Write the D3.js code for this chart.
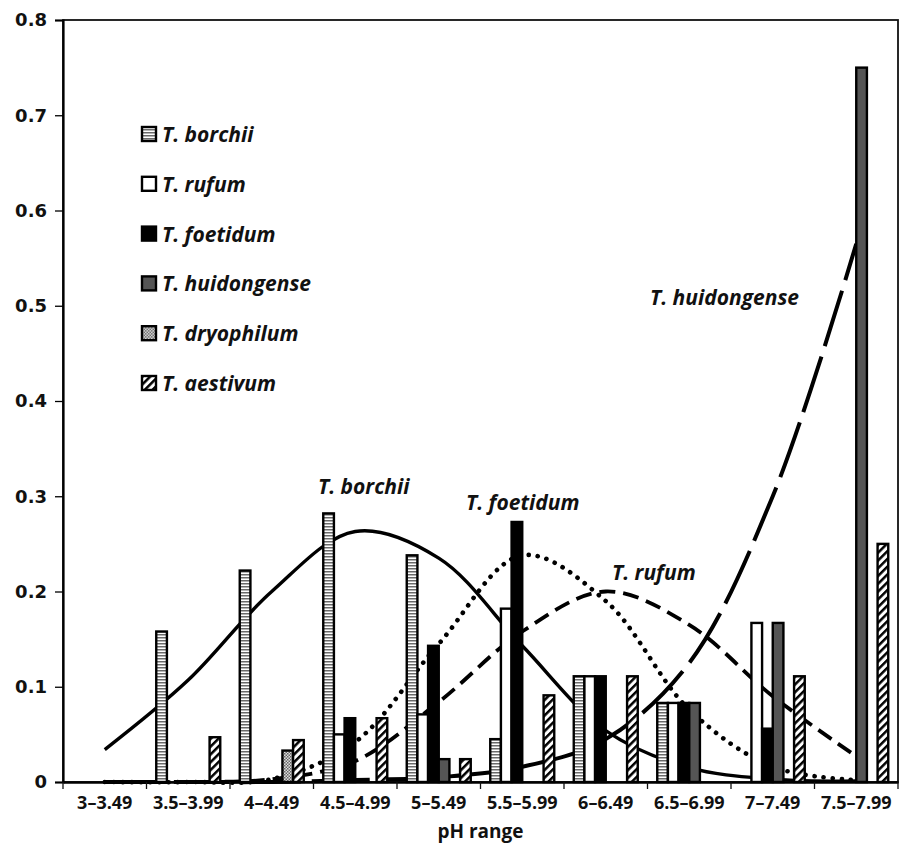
<!DOCTYPE html>
<html>
<head>
<meta charset="utf-8">
<script src="https://cdn.jsdelivr.net/npm/d3@7"></script>
<style>
  body { margin: 0; background: #fff; }
  text { fill: #111; }
</style>
</head>
<body>
<svg id="chart" width="901" height="846"></svg>
<script>
// pH classes on the x axis
const categories = ["3–3.49", "3.5–3.99", "4–4.49", "4.5–4.99", "5–5.49",
                    "5.5–5.99", "6–6.49", "6.5–6.99", "7–7.49", "7.5–7.99"];
const species = ["T. borchii", "T. rufum", "T. foetidum", "T. huidongense", "T. dryophilum", "T. aestivum"];

// bar values (relative frequency per pH class)
const borchii     = [0, 0.158, 0.222, 0.282, 0.238, 0.045, 0.111, 0.083, 0, 0];
const rufum       = [0, 0, 0, 0.050, 0.071, 0.182, 0.111, 0.083, 0.167, 0];
const foetidum    = [0, 0, 0, 0.067, 0.143, 0.273, 0.111, 0.083, 0.056, 0];
const huidongense = [0, 0, 0, 0, 0.024, 0, 0, 0.083, 0.167, 0.750];
const dryophilum  = [0, 0, 0.033, 0, 0, 0, 0, 0, 0, 0];
const aestivum    = [0, 0.047, 0.044, 0.067, 0.024, 0.091, 0.111, 0, 0.111, 0.250];

// fitted curves, read at the centre of each class
const fitBorchii     = [0.034, 0.107, 0.200, 0.263, 0.235, 0.143, 0.054, 0.015, 0.003, 0.001];
const fitRufum       = [0, 0, 0.003, 0.022, 0.084, 0.158, 0.200, 0.165, 0.090, 0.027];
const fitFoetidum    = [0, 0, 0.003, 0.042, 0.145, 0.238, 0.190, 0.076, 0.016, 0.002];
const fitHuidongense = [0, 0, 0, 0.002, 0.005, 0.016, 0.045, 0.125, 0.300, 0.565];

const yTicks = [0, 0.1, 0.2, 0.3, 0.4, 0.5, 0.6, 0.7, 0.8];

const barSeries = [borchii, rufum, foetidum, huidongense, dryophilum, aestivum];
const fills = ["url(#hstripe)", "#fff", "#000", "#555", "url(#checker)", "url(#diag)"];

const svg = d3.select("#chart");
const plotLeft = 63, plotRight = 898, plotTop = 20, plotBottom = 782;

const x0 = d3.scaleBand().domain(categories).range([plotLeft, plotRight]).padding(0);
const pad = 9.75;
const x1 = d3.scaleBand().domain(species).range([pad, x0.bandwidth() - pad]).padding(0);
const y = d3.scaleLinear().domain([0, 0.8]).range([plotBottom, plotTop]);

// patterns
const defs = svg.append("defs");
let p = defs.append("pattern").attr("id", "hstripe").attr("patternUnits", "userSpaceOnUse")
  .attr("width", 4).attr("height", 3);
p.append("rect").attr("width", 4).attr("height", 3).attr("fill", "#fff");
p.append("rect").attr("y", 1).attr("width", 4).attr("height", 1.5).attr("fill", "#6a6a6a");

p = defs.append("pattern").attr("id", "checker").attr("patternUnits", "userSpaceOnUse")
  .attr("width", 3).attr("height", 3);
p.append("rect").attr("width", 3).attr("height", 3).attr("fill", "#ddd");
p.append("rect").attr("width", 1.5).attr("height", 1.5).attr("fill", "#666");
p.append("rect").attr("x", 1.5).attr("y", 1.5).attr("width", 1.5).attr("height", 1.5).attr("fill", "#666");

p = defs.append("pattern").attr("id", "diag").attr("patternUnits", "userSpaceOnUse")
  .attr("width", 5.5).attr("height", 5.5).attr("patternTransform", "rotate(45)");
p.append("rect").attr("width", 5.5).attr("height", 5.5).attr("fill", "#fff");
p.append("rect").attr("width", 2.5).attr("height", 5.5).attr("fill", "#000");

// frame
svg.append("rect")
  .attr("x", plotLeft).attr("y", plotTop)
  .attr("width", plotRight - plotLeft).attr("height", plotBottom - plotTop)
  .attr("fill", "none").attr("stroke", "#111").attr("stroke-width", 1.8);

// fitted curves (behind bars)
const line = d3.line()
  .x((d, i) => x0(categories[i]) + x0.bandwidth() / 2)
  .y(d => y(d))
  .curve(d3.curveCatmullRom);

const curves = [
  { data: fitBorchii, dash: null, width: 3.4 },
  { data: fitFoetidum, dash: "0.1 9", width: 4.6 },
  { data: fitRufum, dash: "16 8", width: 3.8 },
  { data: fitHuidongense, dash: "58 11", width: 4 }
];
curves.forEach(c => {
  svg.append("path")
    .attr("d", line(c.data))
    .attr("fill", "none")
    .attr("stroke", "#000")
    .attr("stroke-width", c.width)
    .attr("stroke-linecap", c.dash && c.dash.startsWith("0.1") ? "round" : "butt")
    .attr("stroke-dasharray", c.dash);
});

// bars
const groups = svg.append("g").selectAll("g")
  .data(categories)
  .join("g")
  .attr("transform", d => `translate(${x0(d)},0)`);

groups.selectAll("rect")
  .data((c, ci) => species.map((s, si) => ({ s, si, v: barSeries[si][ci] })).filter(d => d.v > 0))
  .join("rect")
  .attr("x", d => x1(d.s))
  .attr("y", d => y(d.v))
  .attr("width", x1.bandwidth())
  .attr("height", d => y(0) - y(d.v))
  .attr("fill", d => fills[d.si])
  .attr("stroke", "#000")
  .attr("stroke-width", 2.4);

// axes
const yAxis = svg.append("g")
  .attr("transform", `translate(${plotLeft},0)`)
  .call(d3.axisLeft(y).tickValues(yTicks).tickSize(8).tickPadding(8)
    .tickFormat(d => d === 0 ? "0" : d3.format(".1f")(d)));
yAxis.select(".domain").attr("stroke-width", 2.2);
yAxis.selectAll(".tick line").attr("stroke-width", 1.3);
yAxis.selectAll("text")
  .attr("font-family", "DejaVu Sans").attr("font-weight", "bold").attr("font-size", 18).attr("fill", "#111");

const xAxis = svg.append("g")
  .attr("transform", `translate(0,${plotBottom})`)
  .call(d3.axisBottom(x0).tickSize(0).tickPadding(14));
xAxis.select(".domain").attr("stroke-width", 2.4);
xAxis.selectAll("text")
  .attr("font-family", "Open Sans").attr("font-weight", "bold").attr("font-size", 18).attr("fill", "#111");

// boundary ticks between classes
svg.append("g").selectAll("line")
  .data(categories.concat([null]))
  .join("line")
  .attr("x1", (d, i) => plotLeft + i * x0.bandwidth())
  .attr("x2", (d, i) => plotLeft + i * x0.bandwidth())
  .attr("y1", plotBottom).attr("y2", plotBottom + 7)
  .attr("stroke", "#111").attr("stroke-width", 1.3);

svg.append("text")
  .attr("x", (plotLeft + plotRight) / 2).attr("y", 838)
  .attr("text-anchor", "middle")
  .attr("font-family", "Open Sans").attr("font-weight", "bold").attr("font-size", 19)
  .text("pH range");

// legend
const legend = svg.append("g").selectAll("g")
  .data(species)
  .join("g")
  .attr("transform", (d, i) => `translate(142,${134 + i * 49.8})`);
legend.append("rect")
  .attr("x", 0).attr("y", -7).attr("width", 14).attr("height", 14)
  .attr("fill", (d, i) => fills[i]).attr("stroke", "#000").attr("stroke-width", 2.4);
legend.append("text")
  .attr("x", 20).attr("y", 8)
  .attr("font-family", "Open Sans").attr("font-weight", "bold").attr("font-style", "italic")
  .attr("font-size", 21)
  .text(d => d);

// curve labels
const curveLabels = [
  { text: "T. borchii", x: 318, y: 494 },
  { text: "T. foetidum", x: 466, y: 510 },
  { text: "T. rufum", x: 612, y: 580 },
  { text: "T. huidongense", x: 650, y: 305 }
];
svg.append("g").selectAll("text")
  .data(curveLabels)
  .join("text")
  .attr("x", d => d.x).attr("y", d => d.y)
  .attr("font-family", "Open Sans").attr("font-weight", "bold").attr("font-style", "italic")
  .attr("font-size", 21)
  .text(d => d.text);
</script>
</body>
</html>
